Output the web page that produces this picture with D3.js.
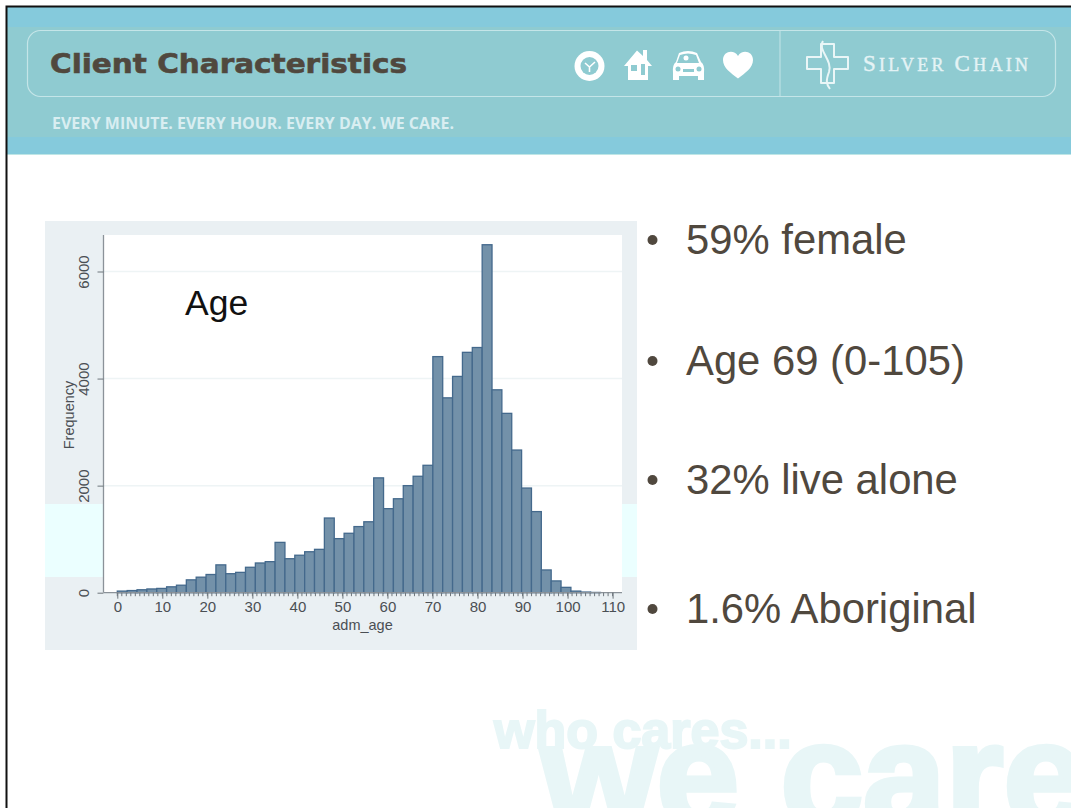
<!DOCTYPE html>
<html lang="en">
<head>
<meta charset="UTF-8">
<title>Client Characteristics</title>
<script src="https://d3js.org/d3.v7.min.js"></script>
<style>
    html, body { margin: 0; padding: 0; background: #fff; overflow: hidden; }
    svg { display: block; font-family: "Liberation Sans", Arial, sans-serif; }
    .bar { fill: #7391a9; stroke: #44698c; stroke-width: 1.3; }
    .grid line { stroke: #eef4f5; stroke-width: 1.5; }
    .axis path { stroke: #8b9299; stroke-width: 1.3; fill: none; }
    .axis line { stroke: #6e767c; }
    .axis text { font-size: 15px; fill: #4a4f54; font-family: "Liberation Sans", sans-serif; }
    .bullet { font-size: 41.8px; fill: #50483e; }
    .wm { font-family: "Liberation Sans", sans-serif; font-weight: 700; fill: #e8f6f7; stroke: #e8f6f7; }
</style>
</head>
<body>
<svg id="slide" width="1071" height="808"></svg>
<script>
// histogram of adm_age, bin counts
const binWidth = 2.19;
const counts = [30, 40, 55, 70, 80, 110, 140, 240, 290, 340, 520, 355, 380, 475, 555, 580,
    940, 635, 700, 765, 810, 1395, 1010, 1110, 1235, 1325, 2145, 1570, 1755, 2000, 2175, 2380,
    4410, 3640, 4040, 4490, 4580, 6500, 3790, 3350, 2665, 1955, 1515, 425, 220, 100, 30, 12, 5];
const xTicks = [0, 10, 20, 30, 40, 50, 60, 70, 80, 90, 100, 110];
const xMinorTicks = d3.range(0, 111);
const yTicks = [0, 2000, 4000, 6000];
const bullets = [
    {text: "59% female", y: 254},
    {text: "Age 69 (0-105)", y: 375},
    {text: "32% live alone", y: 494},
    {text: "1.6% Aboriginal", y: 623}
];

const svg = d3.select("#slide");

// watermark goes in first, everything else sits over it
svg.append("text").attr("class", "wm").attr("x", 541).attr("y", 826)
    .attr("font-size", 146).attr("stroke-width", 5)
    .attr("textLength", 545).attr("lengthAdjust", "spacingAndGlyphs").text("we care");
svg.append("text").attr("class", "wm").attr("x", 494).attr("y", 748)
    .attr("font-size", 52).attr("stroke-width", 2).text("who cares...");

// header band
svg.append("rect").attr("x", 7).attr("y", 7).attr("width", 1064).attr("height", 148).attr("fill", "#85cadc");
svg.append("rect").attr("x", 7).attr("y", 27).attr("width", 1064).attr("height", 110).attr("fill", "#8fcbd1");
svg.append("rect").attr("x", 7).attr("y", 154).attr("width", 1064).attr("height", 1).attr("fill", "#bfe6e6");
svg.append("rect").attr("x", 27.5).attr("y", 30.5).attr("width", 1028).attr("height", 66).attr("rx", 13)
    .attr("fill", "none").attr("stroke", "#c4e5e8").attr("stroke-width", 1.2);
svg.append("line").attr("x1", 780).attr("x2", 780).attr("y1", 31).attr("y2", 96)
    .attr("stroke", "#c4e5e8").attr("stroke-width", 1);

// slide border
svg.append("path").attr("d", "M6.5,808V6.5H1071").attr("fill", "none").attr("stroke", "#111").attr("stroke-width", 2);

svg.append("text").attr("x", 50).attr("y", 73).attr("font-size", 27).attr("font-weight", 700)
    .attr("font-family", "DejaVu Sans")
    .attr("fill", "#50483e").attr("stroke", "#50483e").attr("stroke-width", 0.6)
    .attr("textLength", 357).attr("lengthAdjust", "spacingAndGlyphs").text("Client Characteristics");
svg.append("text").attr("x", 52).attr("y", 129).attr("font-size", 16).attr("font-weight", 700)
    .attr("font-family", "Open Sans").attr("fill", "#d9eef1")
    .attr("textLength", 402).attr("lengthAdjust", "spacingAndGlyphs").text("EVERY MINUTE. EVERY HOUR. EVERY DAY. WE CARE.");

// icons
const icons = svg.append("g").attr("fill", "#fff");
icons.append("circle").attr("cx", 589.5).attr("cy", 66).attr("r", 15);
icons.append("circle").attr("cx", 589.5).attr("cy", 66).attr("r", 9).attr("fill", "#8fcbd1");
icons.append("path").attr("d", "M589.5,67L585,63M589.5,67L595,62M589.5,67V72").attr("stroke", "#fff").attr("stroke-width", 1.6);
// house
icons.append("path").attr("d", "M624,66L637,50.5L643,56V50H647V60L652,66H648V80H628V66Z");
icons.append("rect").attr("x", 631).attr("y", 65).attr("width", 6).attr("height", 6).attr("fill", "#8fcbd1");
icons.append("rect").attr("x", 641).attr("y", 64).attr("width", 4).attr("height", 11).attr("fill", "#8fcbd1");
// car
icons.append("path").attr("d", "M679,53Q688,49 697,53L701,62Q705,65 704,73V80H698V76H679V80H673V73Q672,65 676,62Z");
icons.append("path").attr("d", "M680,55Q688,52 696,55L699,63H677Z").attr("fill", "#8fcbd1");
icons.append("rect").attr("x", 683).attr("y", 69).attr("width", 11).attr("height", 3).attr("fill", "#8fcbd1");
icons.append("circle").attr("cx", 678).attr("cy", 69).attr("r", 2.5).attr("fill", "#8fcbd1");
icons.append("circle").attr("cx", 699).attr("cy", 69).attr("r", 2.5).attr("fill", "#8fcbd1");
icons.append("circle").attr("cx", 686).attr("cy", 58).attr("r", 2.5);
// heart
icons.append("path").attr("d", "M738,78.5C731,73 723,68 723,60C723,51 734,49 738,56C742,49 753,51 753,60C753,68 745,73 738,78.5Z");

// logo cross and ribbon
const logo = svg.append("g").attr("fill", "none").attr("stroke", "#eaf6f7").attr("stroke-width", 2).attr("stroke-linejoin", "round");
logo.append("path").attr("d", "M821,57V44H834V57H848V69H834V83H821V69H807V57Z");
logo.append("path").attr("d", "M823,41C817,50 833,60 829,72C826,80 826,84 830,89").attr("stroke-width", 2);
svg.append("text").attr("x", 863).attr("y", 71).attr("font-family", "Liberation Serif").attr("fill", "#e4f3f5")
    .attr("stroke", "#e4f3f5").attr("stroke-width", 0.4)
    .attr("font-size", 22).attr("textLength", 165).attr("lengthAdjust", "spacing")
    .selectAll("tspan").data([["S", 23], ["ILVER ", 18], ["C", 23], ["HAIN", 18]]).join("tspan")
    .attr("font-size", d => d[1]).text(d => d[0]);

// chart panel, with the pale cyan band the slide shows either side of the plot
const panel = svg.append("g");
panel.append("rect").attr("x", 45).attr("y", 221).attr("width", 592).attr("height", 429).attr("fill", "#eaf0f3");
panel.append("rect").attr("x", 45).attr("y", 504).attr("width", 592).attr("height", 73).attr("fill", "#ebffff");
panel.append("rect").attr("x", 104).attr("y", 235).attr("width", 518).attr("height", 358).attr("fill", "#fff");

const x = d3.scaleLinear().domain([0, 110]).range([117.3, 612.6]);
const y = d3.scaleLinear().domain([0, 6000]).range([592.7, 271.5]);

// gridlines
svg.append("g").attr("class", "grid")
    .selectAll("line").data(yTicks.slice(1)).join("line")
    .attr("x1", 104).attr("x2", 622)
    .attr("y1", d => y(d)).attr("y2", d => y(d));

// bars
svg.append("g").selectAll("rect").data(counts).join("rect")
    .attr("class", "bar")
    .attr("x", (d, i) => x(i * binWidth))
    .attr("y", d => y(d))
    .attr("width", x(binWidth) - x(0))
    .attr("height", d => y(0) - y(d));

// axes
const xAxis = svg.append("g").attr("class", "axis").attr("transform", `translate(0,${y(0)})`);
xAxis.call(d3.axisBottom(x).tickValues(xTicks).tickSize(6).tickPadding(3).tickFormat(d3.format("d")));
xAxis.select(".domain").attr("d", "M104,0H622");
xAxis.selectAll(".minor").data(xMinorTicks).join("line").attr("class", "minor")
    .attr("x1", d => x(d)).attr("x2", d => x(d)).attr("y1", 0).attr("y2", 3.5);

const yAxis = svg.append("g").attr("class", "axis").attr("transform", "translate(103.5,0)");
yAxis.call(d3.axisLeft(y).tickValues(yTicks).tickSize(6).tickPadding(5).tickFormat(d3.format("d")));
yAxis.select(".domain").attr("d", `M0,235V${y(0)}`);
yAxis.selectAll(".tick text").attr("text-anchor", "middle").attr("dy", 0)
    .attr("transform", function() { return `rotate(-90,${this.getAttribute("x")},0) translate(0,-4)`; });

svg.append("text").attr("x", 362.5).attr("y", 630).attr("text-anchor", "middle")
    .attr("font-size", 14.5).attr("fill", "#4a4f54").text("adm_age");
svg.append("text").attr("transform", "translate(74,415) rotate(-90)").attr("text-anchor", "middle")
    .attr("font-size", 14.5).attr("fill", "#4a4f54").text("Frequency");
svg.append("text").attr("x", 185).attr("y", 315).attr("font-size", 35.5).attr("fill", "#111").text("Age");

// bullet list
const rows = svg.append("g").selectAll("g").data(bullets).join("g");
rows.append("circle").attr("cx", 652.5).attr("cy", d => d.y - 14).attr("r", 5).attr("fill", "#50483e");
rows.append("text").attr("class", "bullet").attr("x", 686).attr("y", d => d.y).text(d => d.text);
</script>
</body>
</html>
